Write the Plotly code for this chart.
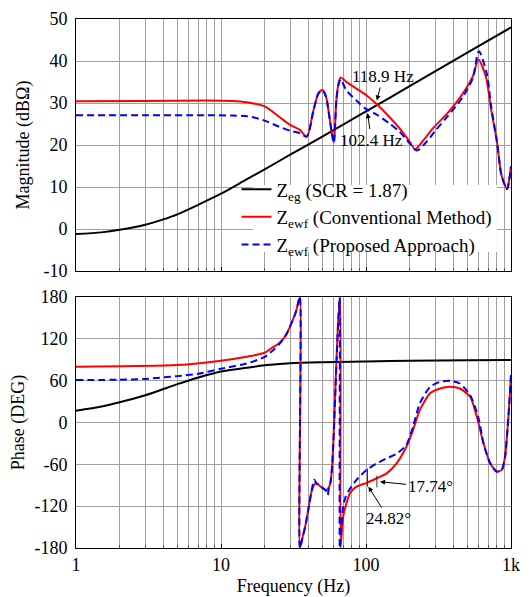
import math
import plotly.graph_objects as go
from plotly.subplots import make_subplots

# ---------------- data ----------------
freq_zeg_mag = [1, 1.5, 2, 3, 4, 5, 7, 10, 15, 20, 30, 50, 70, 100, 200, 500, 1000]
mag_zeg = [-1.2, -0.8, -0.2, 1.0, 2.3, 3.5, 5.8, 8.4, 11.8, 14.2, 17.7, 22.0, 24.9, 28.0, 34.0, 42.0, 48.0]

freq_conv_mag = [1, 3, 8, 12, 15, 20, 25, 30, 35, 39, 43.5, 47, 50, 53, 55, 58, 60, 62.5, 65, 67,
                 73, 87, 101, 118.9, 144, 170, 200, 218, 250, 290, 365, 460, 545, 596, 670, 730,
                 800, 860, 940, 970, 1000]
mag_conv = [30.4, 30.5, 30.6, 30.5, 30.2, 29.2, 26.8, 24.8, 23.6, 22.0, 28.4, 32.3, 33.1, 31.5, 28.4,
            23.0, 20.6, 30.8, 35.0, 36.1, 35.1, 33.3, 31.8, 29.7, 26.8, 24.0, 20.8, 19.0, 21.2, 24.0,
            27.6, 32.0, 36.3, 40.3, 36.3, 28.4, 20.8, 12.8, 9.5, 11.5, 14.9]

freq_prop_mag = [1, 3, 8, 12, 15.5, 20, 25, 30, 35, 39, 43.5, 47, 50, 53, 55, 58, 60, 62.5, 65, 67,
                 73, 87, 100, 119, 144, 170, 200, 224, 262, 304, 365, 460, 545, 600, 680, 730,
                 800, 860, 940, 970, 1000]
mag_prop = [27.1, 27.1, 27.1, 27.0, 26.8, 25.8, 24.4, 23.4, 22.8, 22.0, 28.4, 32.3, 33.1, 31.5, 28.4,
            23.0, 20.5, 30.8, 34.8, 35.6, 33.1, 30.4, 28.6, 27.2, 25.2, 23.2, 20.4, 18.7, 20.8, 23.6,
            26.8, 31.2, 35.9, 42.3, 37.1, 29.2, 20.8, 12.8, 9.5, 11.5, 14.9]

freq_zeg_ph = [1, 1.5, 2, 3, 5, 7, 10, 15, 20, 30, 50, 80, 100, 200, 500, 1000]
phase_zeg = [17, 23, 29, 39, 55, 64.5, 73, 78.5, 82, 84.8, 86.3, 87.1, 87.6, 88.5, 89.3, 89.6]

freq_conv_ph = [1, 5, 10, 15, 20, 23, 25, 28, 31, 33, 35, 35, 36.5, 38, 40, 42, 44, 45.5, 48, 51,
                53.5, 55.5, 57, 58.5, 60, 61.5, 63, 64.5, 66.5, 66.8, 68.5, 70, 73.3, 77.6, 86,
                101, 118.9, 138.8, 162.5, 190, 211, 235, 276, 324, 380, 444, 523, 581, 646, 718,
                797, 864, 910, 960, 1000]
ph_conv = [80, 82.3, 88.5, 94.2, 100, 108.5, 113, 125, 145, 160, 180, -180, -165, -150, -125, -100,
           -89, -87, -91, -95, -97, -93, -85, -60, -10, 50, 105, 150, 180, -180, -150, -132, -116,
           -101, -92, -86.5, -80, -73, -58.5, -34.7, -10.8, 17.8, 41.7, 48.8, 51.2, 48.8, 36.9,
           8.3, -29.8, -58.5, -70.4, -68, -49, 8.3, 68]

freq_prop_ph = [1, 2, 3, 5, 7, 10, 15, 20, 23, 25, 28, 31, 33, 35, 35, 36.5, 38, 40, 42, 43.5, 44,
                45.5, 48, 51, 53.5, 54.5, 55.5, 57, 58.5, 60, 61.5, 63, 64.5, 65.8, 66, 67.5, 69.6,
                72, 75.4, 86, 101, 118.9, 138.8, 162.5, 190, 211, 235, 276, 324, 380, 444, 523,
                594, 646, 718, 797, 864, 910, 960, 1000]
ph_prop = [60.8, 61.3, 62.5, 66.5, 70, 77, 84.5, 94, 104, 111.5, 125, 145, 160, 180, -180, -165,
           -150, -125, -100, -84, -82, -87, -91, -95, -99, -104, -93, -85, -60, -15, 45, 100, 150,
           180, -180, -150, -120, -108, -99, -82.4, -68, -58.5, -51.4, -45, -32, -6, 27.4, 51,
           58.3, 59.7, 55.9, 39.3, 8.3, -29.8, -58.5, -70.4, -68, -49, 8.3, 68]

mag_ticks = [-10, 0, 10, 20, 30, 40, 50]
mag_tick_text = ["-10", "0", "10", "20", "30", "40", "50"]
phase_ticks = [-180, -120, -60, 0, 60, 120, 180]
phase_tick_text = ["-180", "-120", "-60", "0", "60", "120", "180"]
freq_ticks = [1, 10, 100, 1000]
freq_tick_text = ["1", "10", "100", "1k"]

names = ["Z<sub>eg</sub> (SCR = 1.87)",
         "Z<sub>ewf</sub> (Conventional Method)",
         "Z<sub>ewf</sub> (Proposed Approach)"]

# ---------------- figure ----------------
FONT = "Liberation Serif, Times New Roman, serif"
GRID = "#a0a0a0"
DASH = "7px,4px"

fig = make_subplots(rows=2, cols=1)

fig.add_trace(go.Scatter(x=freq_zeg_mag, y=mag_zeg, mode="lines", name=names[0],
                         line=dict(color="black", width=2, shape="spline", smoothing=0.8),
                         legendgroup="a"), row=1, col=1)
fig.add_trace(go.Scatter(x=freq_conv_mag, y=mag_conv, mode="lines", name=names[1],
                         line=dict(color="#ff0000", width=2, shape="spline", smoothing=0.8),
                         legendgroup="b"), row=1, col=1)
fig.add_trace(go.Scatter(x=freq_prop_mag, y=mag_prop, mode="lines", name=names[2],
                         line=dict(color="#0000ff", width=2, dash=DASH, shape="spline", smoothing=0.8),
                         legendgroup="c"), row=1, col=1)

fig.add_trace(go.Scatter(x=freq_zeg_ph, y=phase_zeg, mode="lines", showlegend=False,
                         line=dict(color="black", width=2, shape="spline", smoothing=0.8)), row=2, col=1)
fig.add_trace(go.Scatter(x=freq_conv_ph, y=ph_conv, mode="lines", showlegend=False,
                         line=dict(color="#ff0000", width=2, shape="spline", smoothing=0.6)), row=2, col=1)
fig.add_trace(go.Scatter(x=freq_prop_ph, y=ph_prop, mode="lines", showlegend=False,
                         line=dict(color="#0000ff", width=2, dash=DASH, shape="spline", smoothing=0.6)),
              row=2, col=1)

xcommon = dict(type="log", range=[0, 3], domain=[0, 1], automargin=False, showline=True, mirror=True,
               linecolor="black", linewidth=1, showgrid=True, gridcolor=GRID, gridwidth=1,
               ticks="inside", ticklen=4, tickcolor="black", tickvals=freq_ticks,
               minor=dict(dtick="D1", showgrid=True, gridcolor=GRID, gridwidth=1,
                          ticks="inside", ticklen=3, tickcolor="#555555"),
               zeroline=False)
fig.update_xaxes(**xcommon)
fig.update_xaxes(showticklabels=False, row=1, col=1)
fig.update_xaxes(ticktext=freq_tick_text, showticklabels=True,
                 tickfont=dict(size=18, color="black", family=FONT),
                 title=dict(text="Frequency (Hz)", font=dict(size=18, color="black", family=FONT),
                            standoff=6),
                 row=2, col=1)

ycommon = dict(showline=True, mirror=True, linecolor="black", linewidth=1, showgrid=True,
               automargin=False, gridcolor=GRID, gridwidth=1, zeroline=False, ticks="",
               ticklabelstandoff=4,
               tickfont=dict(size=18, color="black", family=FONT))
fig.update_yaxes(**ycommon)
fig.update_yaxes(range=[-10, 50], tickvals=mag_ticks, ticktext=mag_tick_text,
                 title=dict(text="Magnitude (dBΩ)", font=dict(size=18, color="black", family=FONT),
                            standoff=9),
                 domain=[0.5236, 1.0], row=1, col=1)
fig.update_yaxes(range=[-180, 180], tickvals=phase_ticks, ticktext=phase_tick_text,
                 title=dict(text="Phase (DEG)", font=dict(size=18, color="black", family=FONT),
                            standoff=9),
                 domain=[0.0, 0.4745], row=2, col=1)

annot_font = dict(size=17, color="black", family=FONT)
annotations = [
    dict(x=math.log10(118.9), y=30.6, xref="x", yref="y", text="118.9 Hz", showarrow=True,
         ax=6, ay=-24, arrowhead=2, arrowsize=1, arrowwidth=1, arrowcolor="black", font=annot_font),
    dict(x=math.log10(102.4), y=27.6, xref="x", yref="y", text="102.4 Hz", showarrow=True,
         ax=4, ay=27, arrowhead=2, arrowsize=1, arrowwidth=1, arrowcolor="black", font=annot_font),
    dict(x=math.log10(125), y=-85, xref="x2", yref="y2", text="17.74°", showarrow=True,
         ax=50, ay=5, arrowhead=2, arrowsize=1, arrowwidth=1, arrowcolor="black", font=annot_font),
    dict(x=math.log10(104), y=-92, xref="x2", yref="y2", text="24.82°", showarrow=True,
         ax=20, ay=32, arrowhead=2, arrowsize=1, arrowwidth=1, arrowcolor="black", font=annot_font),
]

shapes = [
    # white backing of the legend box (above the grid, below the curves)
    dict(type="rect", xref="x", yref="y", x0=16.6, x1=800, y0=-5.5, y1=10.5,
         fillcolor="white", line=dict(width=0), layer="between"),
    dict(type="line", xref="x2", yref="y2", x0=102.4, x1=102.4,
         y0=-66, y1=-92, line=dict(color="#333333", width=1)),
    dict(type="line", xref="x2", yref="y2", x0=118.9, x1=118.9,
         y0=-76, y1=-93, line=dict(color="#333333", width=1)),
]

# the page body adds an 8px offset, so the figure is 8px smaller and margins shifted
fig.update_layout(
    width=523, height=589,
    margin=dict(l=68, r=20, t=11, b=49),
    paper_bgcolor="white", plot_bgcolor="white",
    font=dict(family=FONT, size=18, color="black"),
    showlegend=True,
    legend=dict(x=0.369, y=0.714, xanchor="left", yanchor="top", bgcolor="rgba(0,0,0,0)",
                borderwidth=0, font=dict(size=19, color="black", family=FONT),
                tracegroupgap=0, itemwidth=30),
    annotations=annotations,
    shapes=shapes,
)

fig.write_html("out.html")
